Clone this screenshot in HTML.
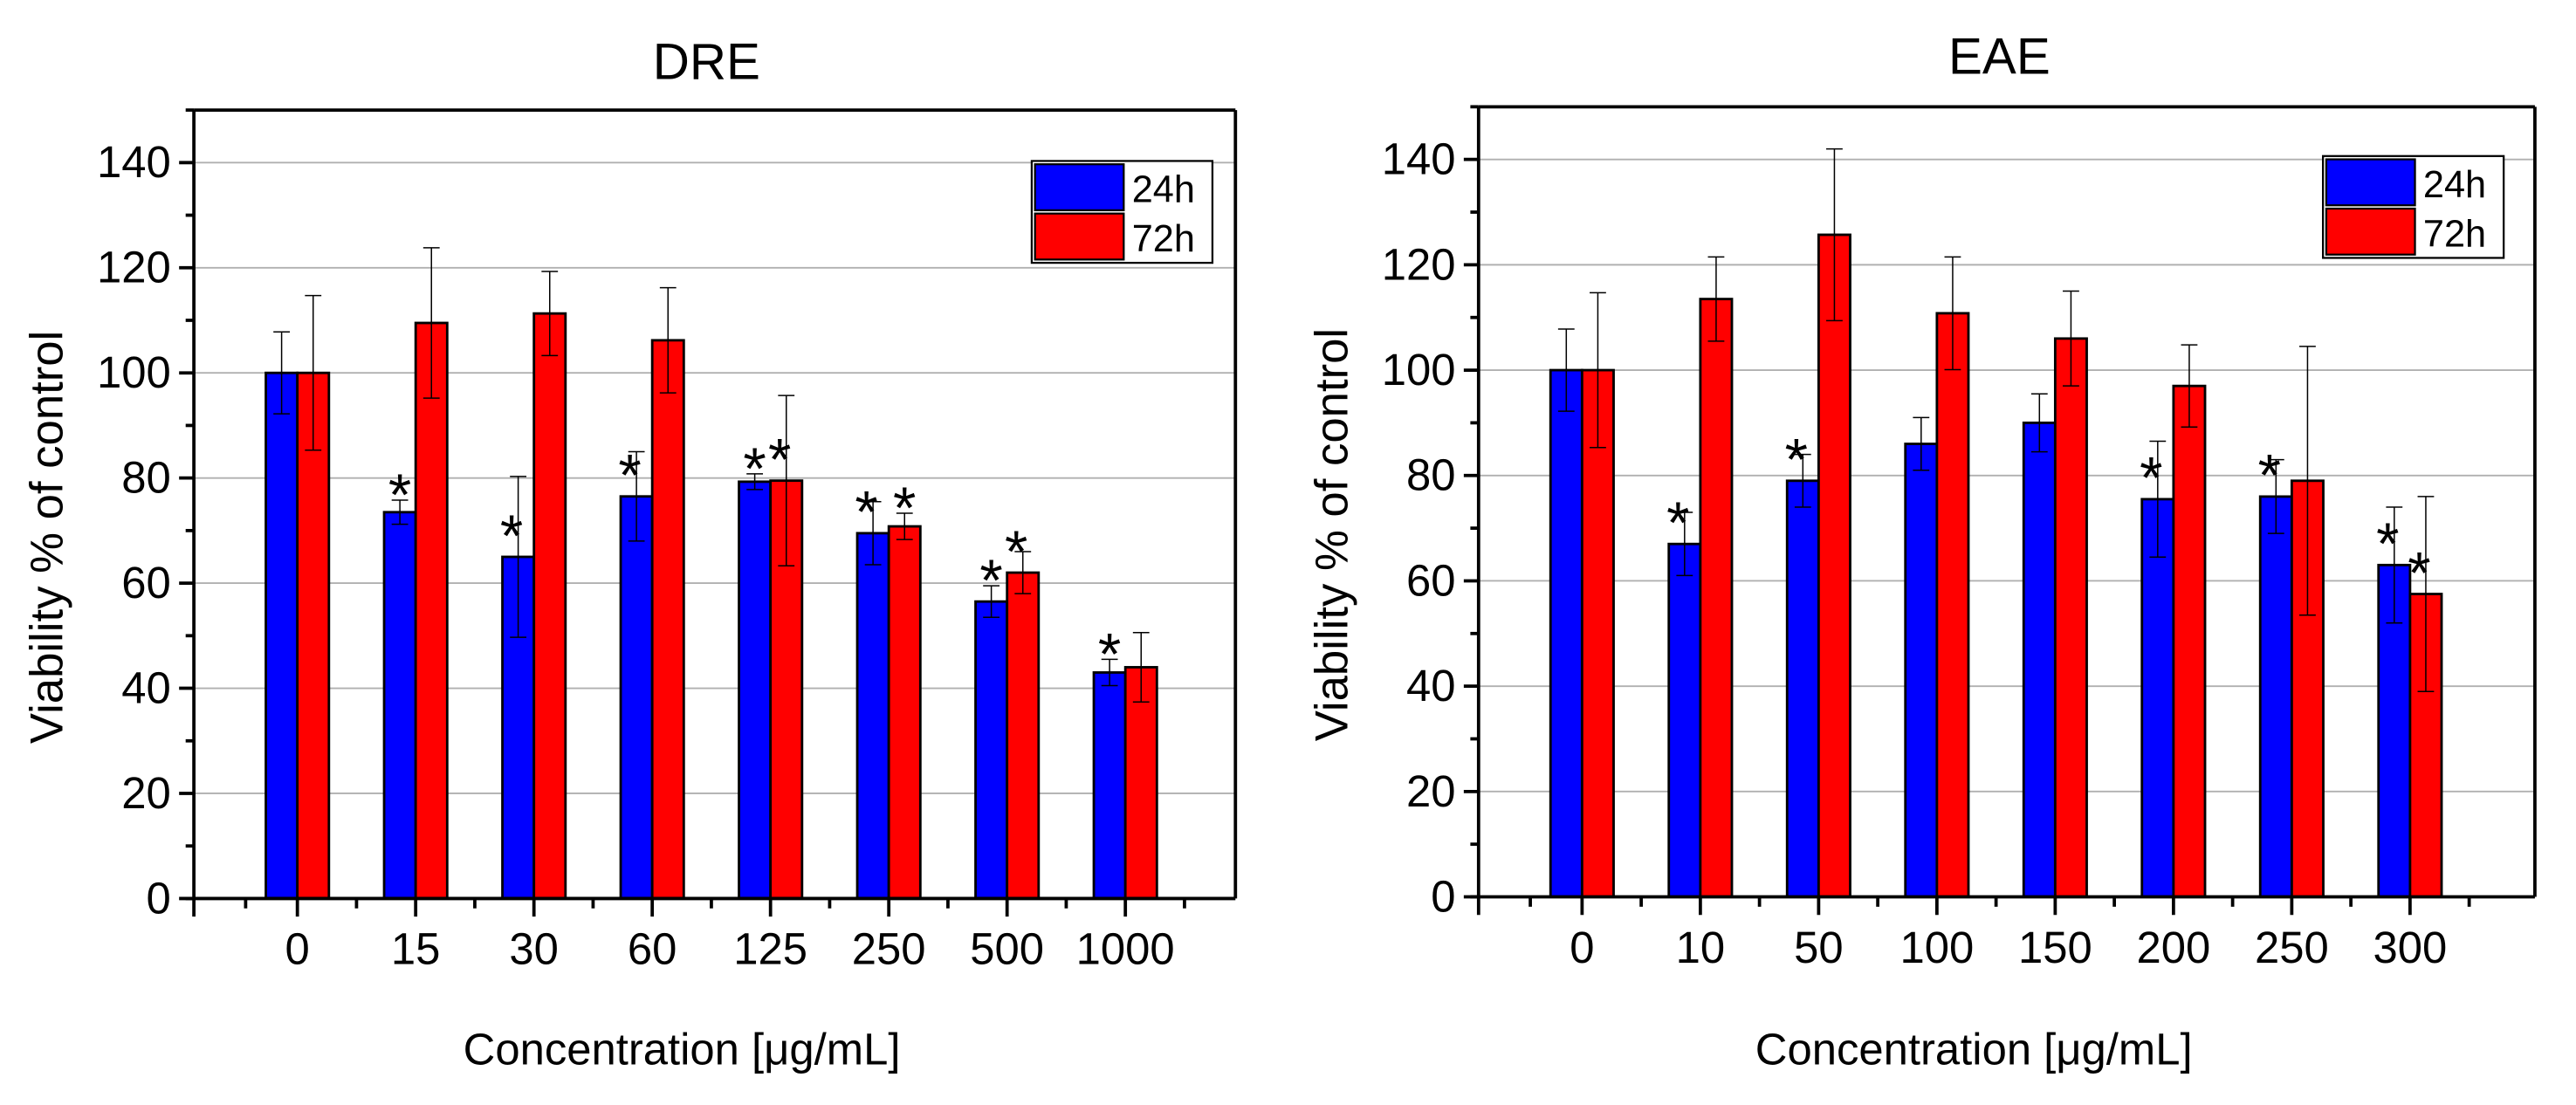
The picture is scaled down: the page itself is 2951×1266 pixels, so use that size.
<!DOCTYPE html>
<html><head><meta charset="utf-8"><style>
html,body{margin:0;padding:0;background:#fff}
svg{display:block}
text{font-family:"Liberation Sans",sans-serif;fill:#000}
.num{font-family:"Liberation Sans Narrow","Liberation Sans",sans-serif;font-size:27px}
</style></head><body>
<svg id="fig" width="2951" height="1266" viewBox="0 0 1568 672.7" xmlns="http://www.w3.org/2000/svg"></svg>
<script>
const dreCategories = ["0","15","30","60","125","250","500","1000"];
const dre24 = [100,73.5,65,76.5,79.3,69.5,56.5,43];
const dre24Err = [7.8,2.3,15.3,8.5,1.5,6,3,2.5];
const dre72 = [100,109.5,111.3,106.2,79.5,70.8,62,44];
const dre72Err = [14.7,14.3,8,10,16.2,2.5,4,6.6];
const dre24Star = [0,1,1,1,1,1,1,1];
const dre72Star = [0,0,0,0,1,1,1,0];
const eaeCategories = ["0","10","50","100","150","200","250","300"];
const eae24 = [100,67,79,86,90,75.5,76,63];
const eae24Err = [7.8,6,5,5,5.5,11,7,11];
const eae72 = [100,113.5,125.7,110.8,106,97,79,57.5];
const eae72Err = [14.7,8,16.3,10.7,9,7.8,25.5,18.5];
const eae24Star = [0,1,1,0,0,1,1,1];
const eae72Star = [0,0,0,0,0,0,0,1];
const yTicks = [0,20,40,60,80,100,120,140];

const NS="http://www.w3.org/2000/svg";
const svg=document.getElementById('fig');
function el(tag,attrs,parent,txt){const e=document.createElementNS(NS,tag);for(const k in attrs)e.setAttribute(k,attrs[k]);if(txt!==undefined)e.textContent=txt;(parent||svg).appendChild(e);return e;}

function chart(o){
  const g=el('g',{});
  
  
  const L=o.left,R=o.right,T=o.top,B=o.bottom;
  const yS=v=>B-(v/150)*(B-T);
  const xS=i=>o.first+i*o.step;
  const bw=19.2;
  yTicks.forEach(v=>{ if(v===0)return;
    const l=el('line',{x1:L,x2:R,y1:yS(v),y2:yS(v),stroke:'#b0b0b0','stroke-width':1},g);
    
    
  });
  const series=[[o.s24,o.e24,o.st24,'#0000ff',-1,'24h'],[o.s72,o.e72,o.st72,'#ff0000',0,'72h']];
  series.forEach(([vals,errs,stars,col,off,nm])=>{
    vals.forEach((v,i)=>{
      const x=xS(i)+off*bw;
      const r=el('rect',{x:x,y:yS(v),width:bw,height:yS(0)-yS(v),fill:col,stroke:'#000','stroke-width':1.5},g);
      
      
      const cx=x+bw/2;
      const eg=el('g',{stroke:'#000','stroke-width':0.8},g);
      
      
      el('line',{x1:cx,x2:cx,y1:yS(v+errs[i]),y2:yS(v-errs[i])},eg);
      el('line',{x1:cx-5,x2:cx+5,y1:yS(v+errs[i]),y2:yS(v+errs[i])},eg);
      el('line',{x1:cx-5,x2:cx+5,y1:yS(v-errs[i]),y2:yS(v-errs[i])},eg);
      if(stars[i]){
        const cap=yS(v+Math.min(errs[i],3));
        const s=el('text',{x:cx-(errs[i]>3?4:0),y:cap+9,'text-anchor':'middle','font-size':'36px'},g,'*');
        
        
      }
    });
  });
  const ax=el('g',{stroke:'#000','stroke-width':2,fill:'none'},g);
  
  
  el('line',{x1:L,x2:R,y1:T,y2:T},ax);
  el('line',{x1:R,x2:R,y1:T,y2:B},ax);
  el('line',{x1:L,x2:L,y1:T,y2:B+1},ax);
  el('line',{x1:L-5,x2:R,y1:B,y2:B},ax);
  for(let v=0;v<=150;v+=10){
    const maj=v%20===0;
    el('line',{x1:L-(maj?9:5),x2:L,y1:yS(v),y2:yS(v)},ax);
  }
  yTicks.forEach(v=>{
    const t=el('text',{x:L-14,y:yS(v)+9,'text-anchor':'end',class:'num'},g,String(v));
    
    
  });
  const majors=[L].concat(o.cats.map((c,i)=>xS(i)));
  majors.forEach((x,k)=>{
    el('line',{x1:x,x2:x,y1:B,y2:B+11},ax);
    if(k<majors.length-1) el('line',{x1:(x+majors[k+1])/2,x2:(x+majors[k+1])/2,y1:B,y2:B+6},ax);
  });
  const lastMid=xS(o.cats.length-1)+o.step/2;
  el('line',{x1:lastMid,x2:lastMid,y1:B,y2:B+6},ax);
  o.cats.forEach((c,i)=>{
    const t=el('text',{x:xS(i),y:B+40,'text-anchor':'middle',class:'num'},g,c);
    
    
  });
  const tt=el('text',{x:o.titleX,y:o.titleY,'text-anchor':'middle','font-size':'31px'},g,o.title);
  
  
  const xt=el('text',{x:(L+R)/2-20,y:648,'text-anchor':'middle','font-size':'27px'},g,'Concentration [\u03bcg/mL]');
  
  
  const yt=el('text',{x:0,y:0,'text-anchor':'middle','font-size':'28px',transform:`translate(${L-80},${(T+B)/2+20}) rotate(-90)`},g,'Viability % of control');
  
  
  const lg=el('g',{},g);
  
  
  const lx=o.legX,ly=o.legY;
  el('rect',{x:lx,y:ly,width:110,height:62,fill:'#fff',stroke:'#000','stroke-width':1.2},lg);
  [['#0000ff','24h'],['#ff0000','72h']].forEach(([c,n],k)=>{
    const e=el('g',{},lg);
    
    
    el('rect',{x:lx+2,y:ly+2+k*30,width:54,height:28,fill:c,stroke:'#000','stroke-width':1.2},e);
    el('text',{x:lx+61,y:ly+25+k*30,'font-size':'23px'},e,n);
  });
}
chart({name:'dre-chart',left:118,right:752,top:67,bottom:547,first:181,step:72,cats:dreCategories,
  s24:dre24,e24:dre24Err,st24:dre24Star,s72:dre72,e72:dre72Err,st72:dre72Star,title:'DRE',titleX:430,titleY:48,legX:628,legY:98});
chart({name:'eae-chart',left:900,right:1543,top:65,bottom:546,first:963,step:72,cats:eaeCategories,
  s24:eae24,e24:eae24Err,st24:eae24Star,s72:eae72,e72:eae72Err,st72:eae72Star,title:'EAE',titleX:1217,titleY:45,legX:1414,legY:95});
</script>
</body></html>
